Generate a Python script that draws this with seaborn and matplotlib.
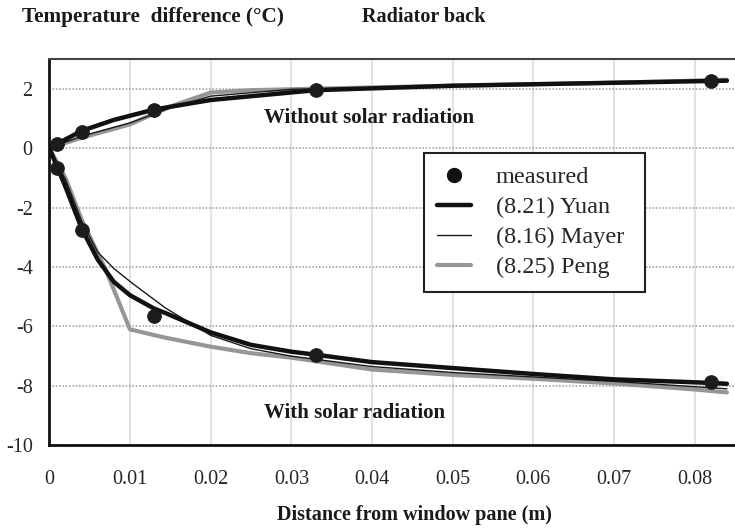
import numpy as np
import pandas as pd
import matplotlib
matplotlib.use("Agg")
import matplotlib.pyplot as plt
from matplotlib.lines import Line2D
import seaborn as sns

# Measured temperature differences at the radiator back (distance in m, °C)
meas_x = [0.001, 0.004, 0.013, 0.033, 0.082]
meas_no_solar = [0.15, 0.55, 1.28, 1.95, 2.25]
meas_solar = [-0.67, -2.75, -5.64, -6.95, -7.86]

# (8.21) Yuan model
yuan_up_x = [0, 0.001, 0.004, 0.008, 0.013, 0.02, 0.033, 0.05, 0.07, 0.084]
yuan_up_y = [0, 0.15, 0.58, 0.95, 1.3, 1.62, 1.95, 2.1, 2.2, 2.27]
yuan_lo_x = [0, 0.001, 0.002, 0.004, 0.006, 0.008, 0.01, 0.013, 0.0144, 0.02,
             0.025, 0.03, 0.033, 0.04, 0.05, 0.06, 0.07, 0.082, 0.084]
yuan_lo_y = [0, -0.65, -1.3, -2.7, -3.75, -4.5, -4.95, -5.4, -5.55, -6.2,
             -6.62, -6.85, -6.95, -7.2, -7.4, -7.6, -7.78, -7.9, -7.93]

# (8.16) Mayer model
mayer_up_x = [0, 0.004, 0.01, 0.015, 0.02, 0.03, 0.05, 0.07, 0.084]
mayer_up_y = [0, 0.4, 0.85, 1.35, 1.75, 1.98, 2.1, 2.2, 2.3]
mayer_lo_x = [0, 0.001, 0.002, 0.004, 0.006, 0.008, 0.0103, 0.0144, 0.02,
              0.025, 0.03, 0.04, 0.05, 0.06, 0.07, 0.084]
mayer_lo_y = [0, -0.55, -1.05, -2.45, -3.5, -4.05, -4.55, -5.38, -6.3,
              -6.75, -7.0, -7.35, -7.55, -7.7, -7.85, -8.1]

# (8.25) Peng model
peng_up_x = [0, 0.004, 0.01, 0.015, 0.02, 0.025, 0.033, 0.05, 0.07, 0.084]
peng_up_y = [0, 0.35, 0.8, 1.4, 1.87, 1.95, 2.0, 2.1, 2.2, 2.3]
peng_lo_x = [0, 0.002, 0.004, 0.007, 0.01, 0.0144, 0.02, 0.025, 0.03, 0.04,
             0.05, 0.06, 0.07, 0.08, 0.084]
peng_lo_y = [0, -1.0, -2.4, -4.1, -6.1, -6.38, -6.68, -6.9, -7.05, -7.45,
             -7.63, -7.76, -7.92, -8.12, -8.22]

x_ticks = [0, 0.01, 0.02, 0.03, 0.04, 0.05, 0.06, 0.07, 0.08]
x_tick_labels = ["0", "0.01", "0.02", "0.03", "0.04", "0.05", "0.06", "0.07", "0.08"]
y_ticks = [-10, -8, -6, -4, -2, 0, 2]
y_tick_labels = ["-10", "-8", "-6", "-4", "-2", "0", "2"]

labels = ["measured", "(8.21) Yuan", "(8.16) Mayer", "(8.25) Peng"]


def curves(model, up_x, up_y, lo_x, lo_y):
    return pd.concat([
        pd.DataFrame({"x": up_x, "y": up_y, "case": "no solar", "model": model}),
        pd.DataFrame({"x": lo_x, "y": lo_y, "case": "solar", "model": model}),
    ])


models = pd.concat([
    curves("Peng", peng_up_x, peng_up_y, peng_lo_x, peng_lo_y),
    curves("Mayer", mayer_up_x, mayer_up_y, mayer_lo_x, mayer_lo_y),
    curves("Yuan", yuan_up_x, yuan_up_y, yuan_lo_x, yuan_lo_y),
], ignore_index=True)
measured = pd.DataFrame({"x": meas_x + meas_x, "y": meas_no_solar + meas_solar})

sns.set_style("white")
plt.rcParams["font.family"] = ["Liberation Serif", "DejaVu Serif"]

fig = plt.figure(figsize=(7.35, 5.29), dpi=100)
ax = fig.add_axes([0.0671, 0.1582, 0.9329, 0.7303])

styles = {
    "Peng": dict(color="#969696", lw=3.0),
    "Mayer": dict(color="#1a1a1a", lw=1.0),
    "Yuan": dict(color="#111111", lw=3.2),
}
for name in ["Peng", "Mayer", "Yuan"]:
    sns.lineplot(data=models[models["model"] == name], x="x", y="y",
                 units="case", estimator=None, sort=False, ax=ax,
                 legend=False, **styles[name])

sns.scatterplot(data=measured, x="x", y="y", ax=ax, s=95, color="#1c1c1c",
                edgecolor="#1c1c1c", linewidth=0.8, zorder=5, legend=False)

ax.set_xlim(0, 0.084)
ax.set_ylim(-10, 3)
ax.set_xticks(x_ticks)
ax.set_xticklabels(x_tick_labels)
ax.set_xticks([t + 0.005 for t in x_ticks], minor=True)
ax.set_yticks(y_ticks)
ax.set_yticklabels(y_tick_labels)
ax.set_xlabel("")
ax.set_ylabel("")

ax.tick_params(axis="x", which="major", direction="in", length=6, width=1.5,
               pad=18, labelsize=14.5, color="#111111")
ax.tick_params(axis="x", which="minor", direction="in", length=5, width=1.5,
               color="#111111")
ax.tick_params(axis="y", direction="in", length=5, width=1.5, pad=12,
               labelsize=14.5, color="#111111")

ax.set_axisbelow(True)
ax.xaxis.grid(True, which="major", color="#d8d8d8", lw=1.1)
ax.yaxis.grid(True, which="major", color="#a8a8a8", lw=1.2, linestyle=(0, (1, 1)))

for side in ["left", "bottom"]:
    ax.spines[side].set_linewidth(2.0)
    ax.spines[side].set_color("#111111")
ax.spines["top"].set_linewidth(1.5)
ax.spines["top"].set_color("#444444")
ax.spines["right"].set_visible(False)

ax.text(0.02665, 1.0, "Without solar radiation", fontsize=15,
        fontweight="bold", va="center", ha="left", color="#1a1a1a")
ax.text(0.02665, -8.9, "With solar radiation", fontsize=15,
        fontweight="bold", va="center", ha="left", color="#1a1a1a")

handles = [
    Line2D([], [], ls="none", marker="o", ms=10, color="#111111"),
    Line2D([], [], color="#111111", lw=3.2),
    Line2D([], [], color="#1a1a1a", lw=1.0),
    Line2D([], [], color="#969696", lw=3.0),
]
leg = ax.legend(handles, labels, loc="upper left",
                bbox_to_anchor=(0.5464, 0.394, 0.3223, 0.3627), mode="expand",
                borderaxespad=0, fontsize=17.5, frameon=True, fancybox=False,
                handlelength=1.4, handletextpad=1.0, labelspacing=0.33,
                borderpad=0.55)
leg.get_frame().set_edgecolor("#222222")
leg.get_frame().set_linewidth(1.5)
leg.get_frame().set_alpha(1)

fig.text(22 / 735, 1 - 17 / 529, "Temperature  difference (°C)", fontsize=15.3,
         fontweight="bold", ha="left", va="center", color="#1a1a1a")
fig.text(362 / 735, 1 - 17 / 529, "Radiator back", fontsize=14.5,
         fontweight="bold", ha="left", va="center", color="#1a1a1a")
fig.text(277 / 735, 1 - 515 / 529, "Distance from window pane (m)", fontsize=14.5,
         fontweight="bold", ha="left", va="center", color="#1a1a1a")

fig.savefig("out.png", dpi=100)
